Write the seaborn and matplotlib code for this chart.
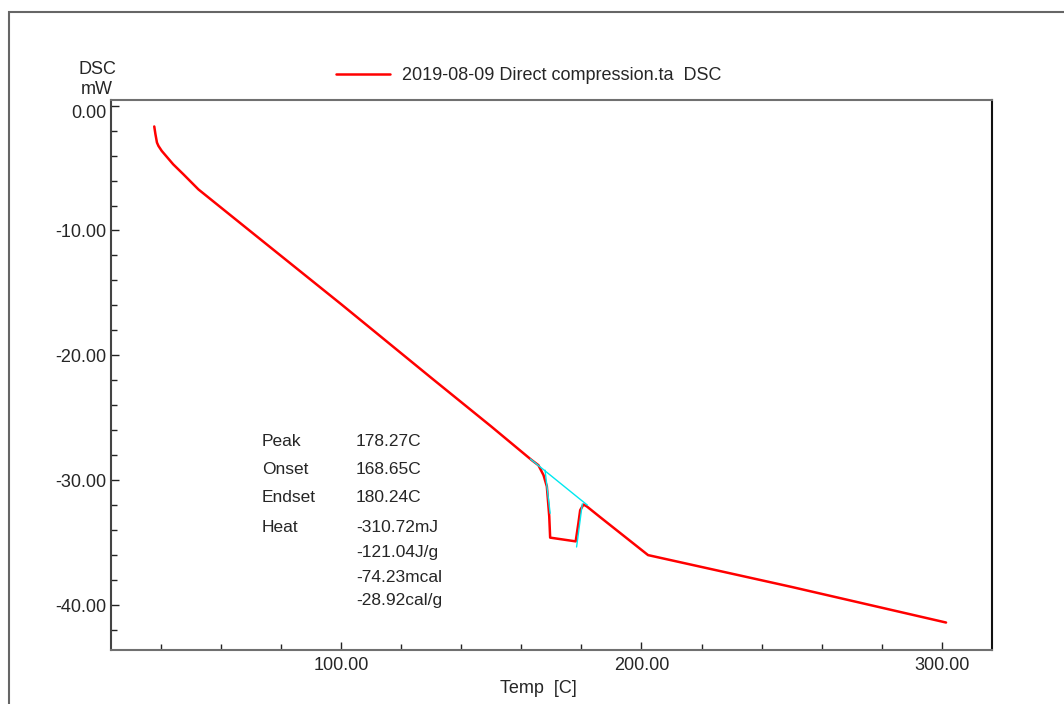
import matplotlib
matplotlib.use("Agg")
import matplotlib.pyplot as plt
import matplotlib.transforms as mtransforms
import seaborn as sns
import pandas as pd
from matplotlib.patches import Rectangle
from matplotlib.ticker import MultipleLocator, FormatStrFormatter

# ---- data ----
temp = [37.8, 38.2, 38.7, 39.2, 40.3, 44.1, 47.5, 52.5, 70.0, 100.0, 130.0,
        150.0, 163.5, 165.7, 167.4, 168.5, 169.3, 169.6, 178.1, 179.0, 179.6,
        180.7, 181.8, 186.2, 202.2, 250.0, 301.4]
dsc = [-1.67, -2.3, -2.96, -3.23, -3.63, -4.70, -5.50, -6.71, -10.1, -15.9,
       -21.8, -25.7, -28.4, -28.8, -29.6, -30.5, -32.9, -34.6, -34.9, -33.45,
       -32.4, -31.95, -32.1, -32.95, -36.0, -38.55, -41.4]

baseline_temp = [163.0, 182.0]
baseline_dsc = [-28.3, -32.0]
onset_temp = [167.9, 169.6]
onset_dsc = [-29.2, -32.65]
endset_temp = [178.4, 180.3]
endset_dsc = [-35.35, -31.9]

result_labels = ["Peak", "Onset", "Endset", "Heat", "", "", ""]
result_values = ["178.27C", "168.65C", "180.24C", "-310.72mJ", "-121.04J/g",
                 "-74.23mcal", "-28.92cal/g"]
legend_label = "2019-08-09 Direct compression.ta  DSC"

sns.set_style("white")
plt.rcParams["font.family"] = ["Liberation Sans", "DejaVu Sans"]

fig = plt.figure(figsize=(10.64, 7.04), dpi=100)
ax = fig.add_axes([111 / 1064, 1 - 650 / 704, 881 / 1064, 550 / 704])

df = pd.DataFrame({"Temp": temp, "DSC": dsc})
sns.lineplot(data=df, x="Temp", y="DSC", sort=False, estimator=None,
             color="#ff0000", lw=1.8, ax=ax, label=legend_label)
for tx, ty in [(baseline_temp, baseline_dsc), (onset_temp, onset_dsc),
               (endset_temp, endset_dsc)]:
    sns.lineplot(x=tx, y=ty, sort=False, estimator=None, color="#00e8f0",
                 lw=1.0, ax=ax)

ax.set_xlim(23.4, 316.7)
ax.set_ylim(-43.6, 0.45)

ax.xaxis.set_major_locator(MultipleLocator(100))
ax.xaxis.set_minor_locator(MultipleLocator(20))
ax.yaxis.set_major_locator(MultipleLocator(10))
ax.yaxis.set_minor_locator(MultipleLocator(2))
ax.xaxis.set_major_formatter(FormatStrFormatter("%.2f"))
ax.yaxis.set_major_formatter(FormatStrFormatter("%.2f"))
ax.tick_params(axis="both", which="major", direction="in", length=6, width=1,
               labelsize=13, color="#222222", pad=3,
               top=False, right=False, left=True, bottom=True)
ax.tick_params(axis="x", which="major", pad=5)
ax.tick_params(axis="both", which="minor", direction="in", length=4, width=1,
               color="#222222", top=False, right=False, left=True, bottom=True)

for side in ["left", "bottom", "top", "right"]:
    ax.spines[side].set_visible(True)
    ax.spines[side].set_linewidth(1.5)
ax.spines["left"].set_color("#444444")
ax.spines["bottom"].set_color("#707070")
ax.spines["top"].set_color("#707070")
ax.spines["right"].set_color("#111111")

ax.set_xlabel("Temp  [C]", fontsize=13, labelpad=4)
ax.xaxis.set_label_coords(0.485, -0.055)
ax.set_ylabel("")

fig.canvas.draw()
for lbl in ax.get_yticklabels():
    if lbl.get_text() == "0.00":
        lbl.set_transform(lbl.get_transform() +
                          mtransforms.ScaledTranslation(0, -6 / 100,
                                                        fig.dpi_scale_trans))

row_pix = [441, 470, 498, 527, 552, 577, 601]
for lab, val, ypix in zip(result_labels, result_values, row_pix):
    yf = (650 - ypix) / 550
    if lab:
        ax.text((262 - 111) / 881, yf, lab, transform=ax.transAxes,
                fontsize=12.5, va="center", ha="left")
    ax.text((356 - 111) / 881, yf, val, transform=ax.transAxes,
            fontsize=12.5, va="center", ha="left")

fig.text(97 / 1064, 1 - 69 / 704, "DSC", fontsize=13, ha="center", va="center")
fig.text(97 / 1064, 1 - 90 / 704, "mW", fontsize=13, ha="center", va="center")

ax.legend(loc="center left", bbox_to_anchor=(336 / 1064, 1 - 76 / 704),
          bbox_transform=fig.transFigure, frameon=False, fontsize=13,
          handlelength=3.0, handletextpad=0.65, borderpad=0,
          borderaxespad=0)

fig.patches.append(Rectangle((9 / 1064, -0.1), 1.2, (1 - 12 / 704) + 0.1,
                             transform=fig.transFigure, fill=False,
                             edgecolor="#666666", lw=1.5, clip_on=False))

fig.savefig("out.png", dpi=100)
